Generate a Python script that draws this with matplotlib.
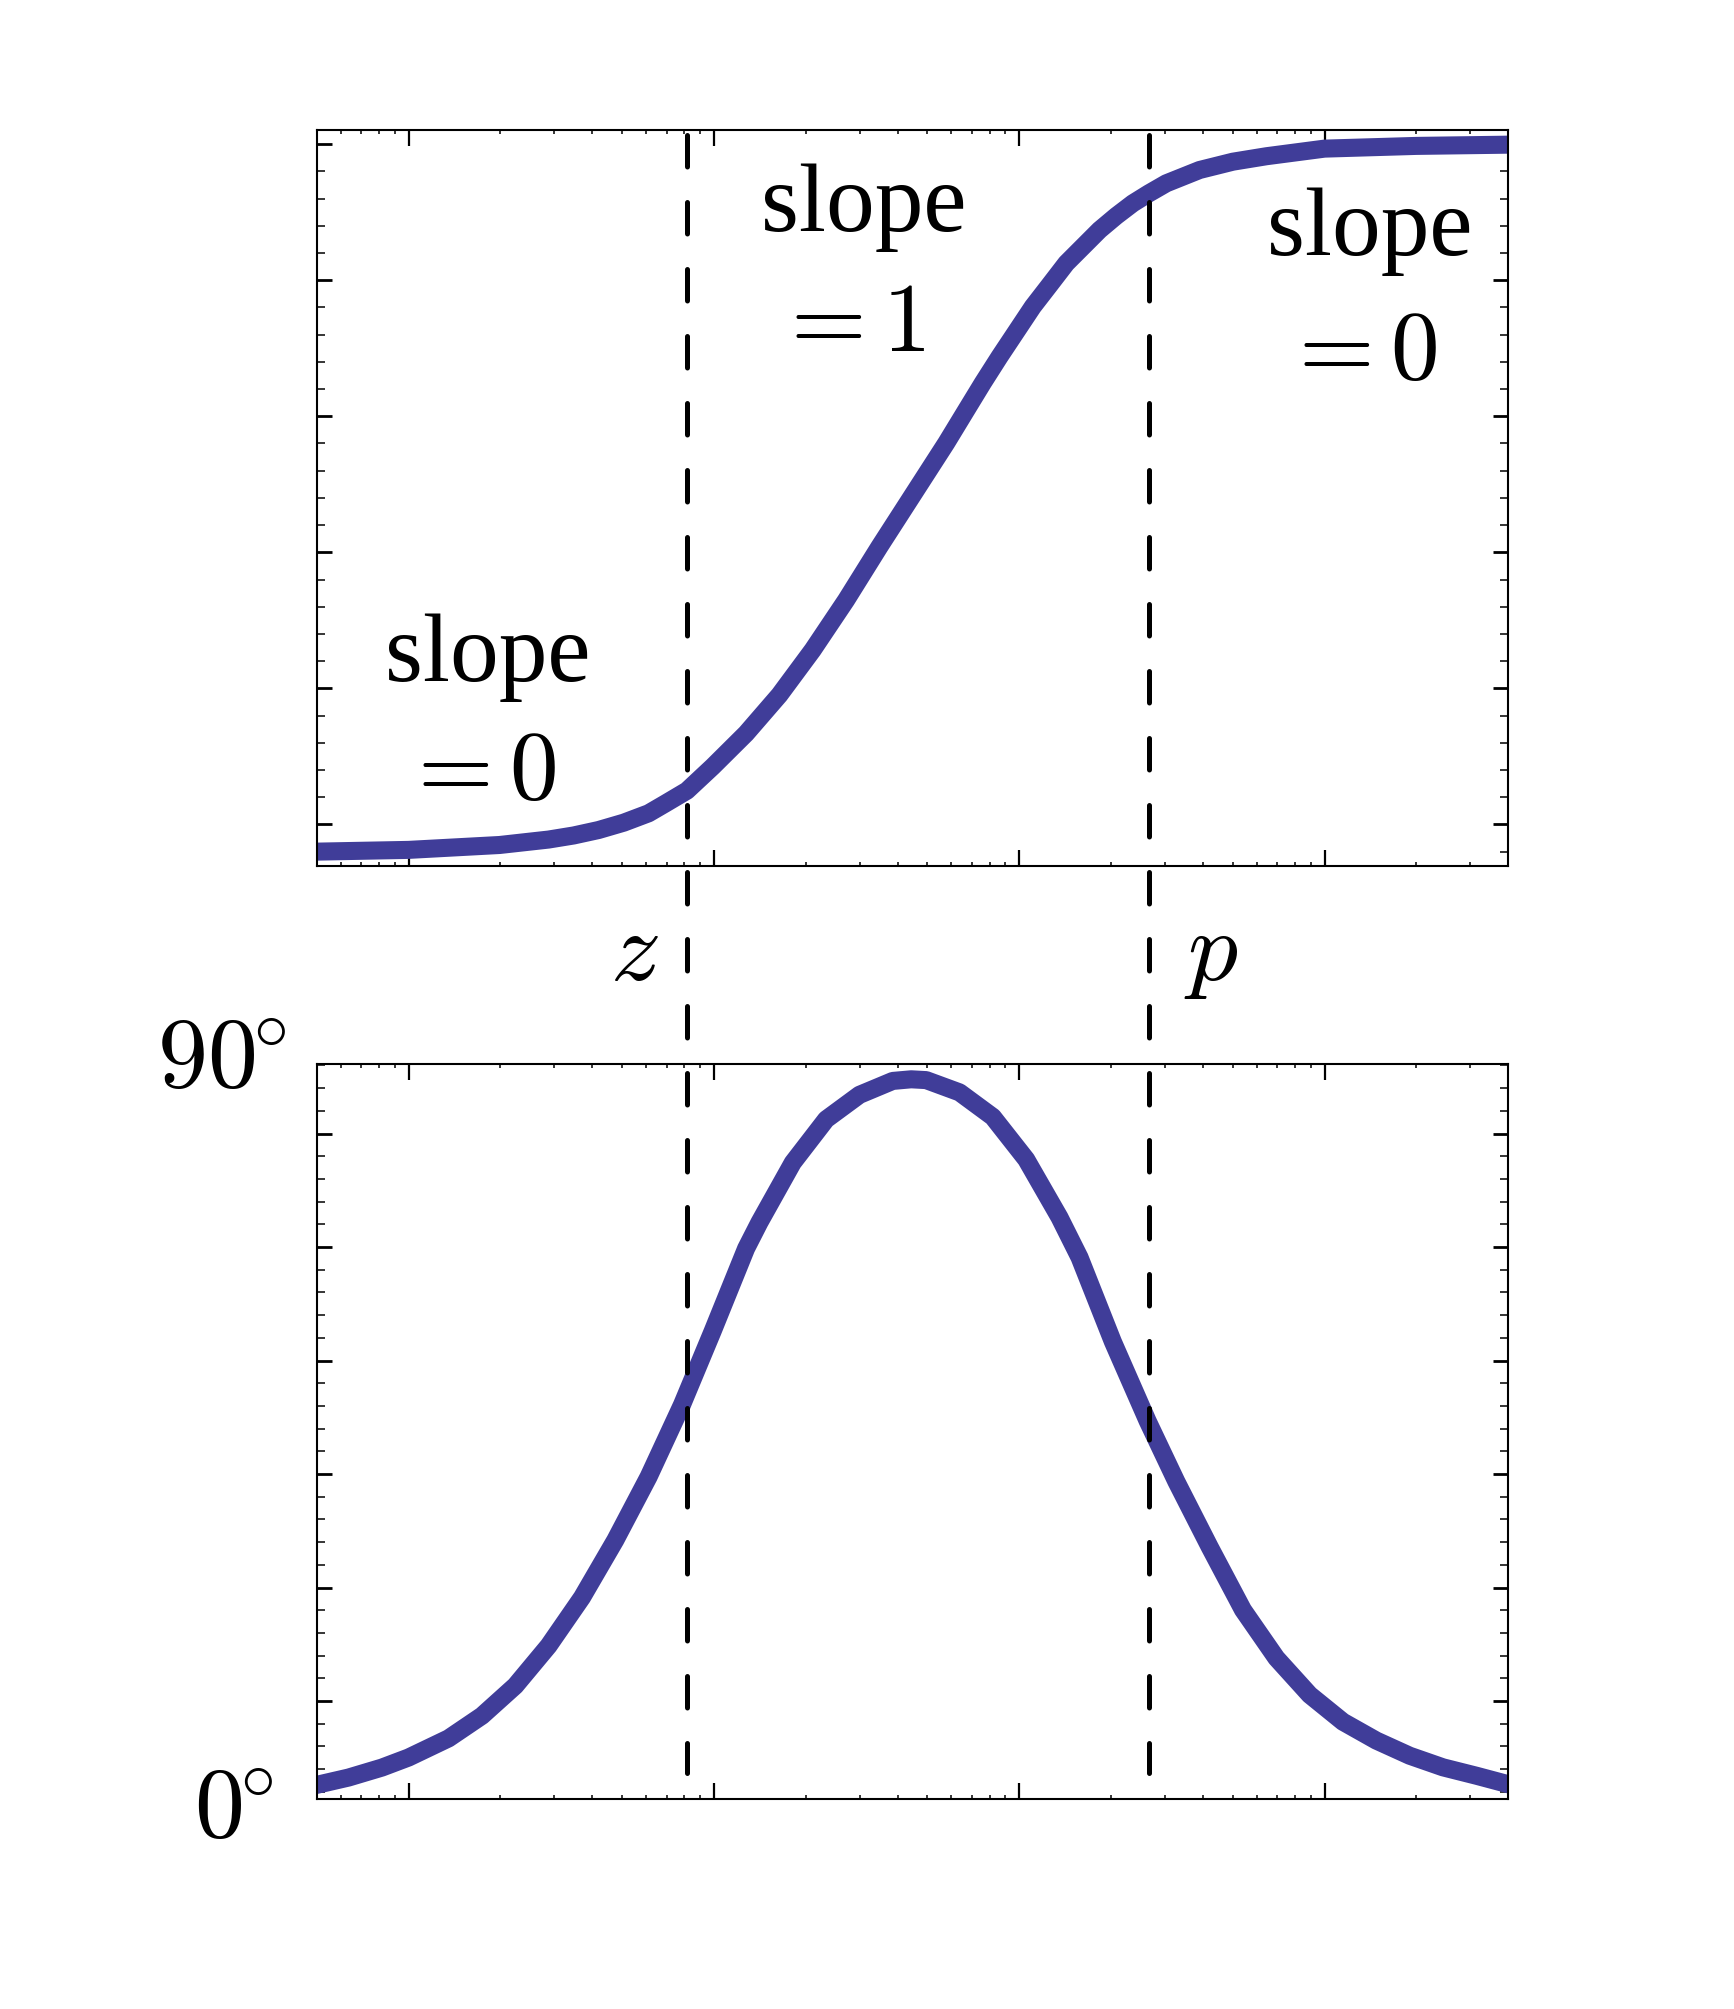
import matplotlib
matplotlib.use("Agg")
import matplotlib.pyplot as plt
from matplotlib import transforms
from matplotlib.ticker import MultipleLocator, LogLocator, NullFormatter
import numpy as np

plt.rcParams['mathtext.fontset'] = 'cm'

# magnitude curve, y in dB-like units
freq_mag = [0.497, 1.0, 1.987, 2.875, 3.473, 4.19, 5.065, 6.11, 6.936, 8.16,
            9.91, 12.75, 16.39, 21.07, 27.12, 34.85, 44.8, 57.7, 67.1, 75.99,
            86.2, 110.8, 125.7, 142.6, 161.6, 183.3, 207.9, 235.6, 265.3, 303.2,
            389.8, 501.1, 644.8, 1000, 1999, 3981]
mag_db = [-2.01, -1.88, -1.52, -1.12, -0.82, -0.42, 0.12, 0.81, 1.53, 2.47,
          4.24, 6.68, 9.51, 12.82, 16.49, 20.41, 24.21, 28.04, 30.46, 32.45,
          34.38, 38.06, 39.65, 41.25, 42.47, 43.70, 44.73, 45.66, 46.38, 47.13,
          48.11, 48.72, 49.12, 49.68, 49.88, 49.97]

# phase curve, degrees
freq_phase = [0.497, 0.636, 0.818, 1.0, 1.352, 1.740, 2.237, 2.875, 3.700, 4.757,
              6.114, 7.866, 9.911, 12.75, 14.10, 18.13, 23.32, 29.98, 38.53, 44.27,
              49.58, 63.74, 81.93, 105.4, 135.5, 157.6, 202.6, 263.3, 326.9, 420.3,
              540.3, 695.2, 893.8, 1149, 1478, 1900, 2443, 3144, 3981]
phase_deg = [1.76, 2.68, 3.90, 5.13, 7.47, 10.24, 13.91, 18.80, 24.72, 31.73,
             39.48, 48.3, 57.3, 67.4, 70.6, 77.9, 83.2, 86.2, 87.9, 88.1,
             88.0, 86.5, 83.5, 78.3, 71.2, 66.3, 56.0, 46.3, 38.9, 30.9,
             23.2, 17.3, 12.8, 9.5, 7.2, 5.35, 3.93, 2.9, 1.88]

z_freq = 8.16
p_freq = 265.3

W, H = 1734, 2009
fig = plt.figure(figsize=(W / 200, H / 200), dpi=200)
ax1 = fig.add_axes([0.1826, 0.5687, 0.6873, 0.3668], facecolor='none')
ax2 = fig.add_axes([0.1826, 0.1043, 0.6873, 0.3662], facecolor='none')
ax1.set_zorder(3)

blue = '#403d99'
ax1.semilogx(freq_mag, mag_db, color=blue, lw=6.5, solid_joinstyle='round', zorder=2)
ax2.semilogx(freq_phase, phase_deg, color=blue, lw=6.5, solid_joinstyle='round', zorder=2)

for ax in (ax1, ax2):
    ax.set_xscale('log')
    ax.set_xlim(0.5, 4000)
    ax.xaxis.set_major_locator(LogLocator(base=10, numticks=20))
    ax.xaxis.set_minor_locator(LogLocator(base=10, subs=np.arange(2, 10), numticks=20))
    ax.xaxis.set_major_formatter(NullFormatter())
    ax.xaxis.set_minor_formatter(NullFormatter())
    ax.yaxis.set_major_formatter(NullFormatter())
    ax.tick_params(which='both', direction='in', top=True, right=True)
    ax.tick_params(axis='y', which='major', length=5.4, width=1.0)
    ax.tick_params(axis='y', which='minor', length=2.9, width=0.55)
    ax.tick_params(axis='x', which='major', length=5.8, width=0.8)
    ax.tick_params(axis='x', which='minor', length=1.4, width=0.55)
    for s in ax.spines.values():
        s.set_linewidth(0.75)

ax1.set_ylim(-3.10, 51.08)
ax1.yaxis.set_major_locator(MultipleLocator(10))
ax1.yaxis.set_minor_locator(MultipleLocator(2))

ax2.set_ylim(0, 90)
ax2.yaxis.set_major_locator(MultipleLocator(13.885, offset=12.04))
ax2.yaxis.set_minor_locator(MultipleLocator(13.885 / 5, offset=12.04))

# dashed markers at z and p, running through both panels
trans = transforms.blended_transform_factory(ax1.transData, fig.transFigure)
for f in (z_freq, p_freq):
    ax1.plot([f, f], [1 - 135 / H, 1 - 1773 / H], transform=trans, color='black',
             lw=1.8, dashes=(6.3, 7.1), dash_capstyle='round', clip_on=False, zorder=5)
ax1.set_xlim(0.5, 4000)
ax1.set_ylim(-3.10, 51.08)


def ftext(x, y, s, **kw):
    fig.text(x / W, 1 - y / H, s, ha='center', va='baseline', **kw)


serif = dict(fontsize=35, family='Liberation Serif')
ftext(488, 681, 'slope', **serif)
ftext(478, 799, '$=0$', fontsize=35)
ftext(864, 231, 'slope', **serif)
ftext(849, 351, '$=1$', fontsize=35)
ftext(1370, 255, 'slope', **serif)
ftext(1359, 379, '$=0$', fontsize=35)
ftext(634, 980, '$z$', fontsize=36)
ftext(1211, 980, '$p$', fontsize=36)
ftext(222, 1088, r'$90^{\!\!\circ}$', fontsize=36)
ftext(234, 1838, r'$0^{\!\!\circ}$', fontsize=36)

fig.savefig('out.png', dpi=200)
